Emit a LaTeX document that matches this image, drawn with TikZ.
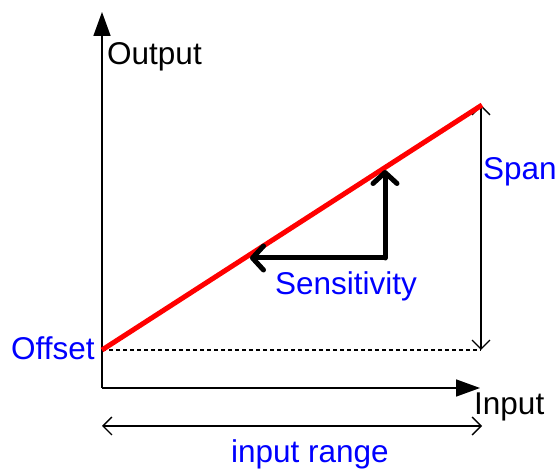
\documentclass[tikz,border=0pt]{standalone}
\usepackage{fontspec}
\setmainfont{Liberation Sans}
\usetikzlibrary{arrows.meta}
\definecolor{lblue}{RGB}{0,0,255}
\definecolor{lred}{RGB}{255,0,0}
\begin{document}
\begin{tikzpicture}[x=1pt,y=-1pt,
  lbl/.style={anchor=base west,inner sep=0pt,font=\fontsize{31.5}{36}\selectfont},
  bluelbl/.style={lbl,text=lblue},
  axis/.style={line width=1.6pt,-{Triangle[length=24pt,width=17pt]}},
  dim/.style={line width=1.3pt,{Straight Barb[length=9pt,width=18pt]}-{Straight Barb[length=9pt,width=18pt]}},
  sens/.style={line width=5pt,line cap=round,line join=round,-{Straight Barb[length=11pt,width=24pt,line cap=round,line join=round]}},
  redline/.style={line width=5pt,draw=lred}]
\useasboundingbox (0,0) rectangle (558,470);
\coordinate (O) at (102,388);
\coordinate (ytop) at (102,12);
\coordinate (xend) at (480,388);
\coordinate (off) at (102,350);
\coordinate (top) at (482,105);
\coordinate (spantop) at (481,105);
\coordinate (spanbot) at (481,350);
\coordinate (rl) at (102,426);
\coordinate (rr) at (482,426);
\coordinate (s1) at (250,258);
\coordinate (s2) at (385,258);
\coordinate (s3) at (385,170);
% dashed
\draw[line width=1.3pt,dash pattern=on 4pt off 3pt] (off) -- (spanbot);
% span
\draw[dim] (spanbot) -- (spantop);
% axes
\draw[axis] (O) -- (ytop);
\draw[axis] (O) -- (xend);
% input range
\draw[dim] (rl) -- (rr);
% red line
\draw[redline] (off) -- (top);
% sensitivity
\draw[sens] (s2) -- (s1);
\draw[sens] (s2) -- (s3);
% labels
\node[lbl] (output) at (107,65) {Output};
\node[lbl] (input) at (474,415) {Input};
\node[bluelbl] (offset) at (11,360) {Offset};
\node[bluelbl] (span) at (483,180) {Span};
\node[bluelbl] (sensl) at (275,295) {Sensitivity};
\node[bluelbl] (range) at (231,463) {input range};
\end{tikzpicture}
\end{document}
